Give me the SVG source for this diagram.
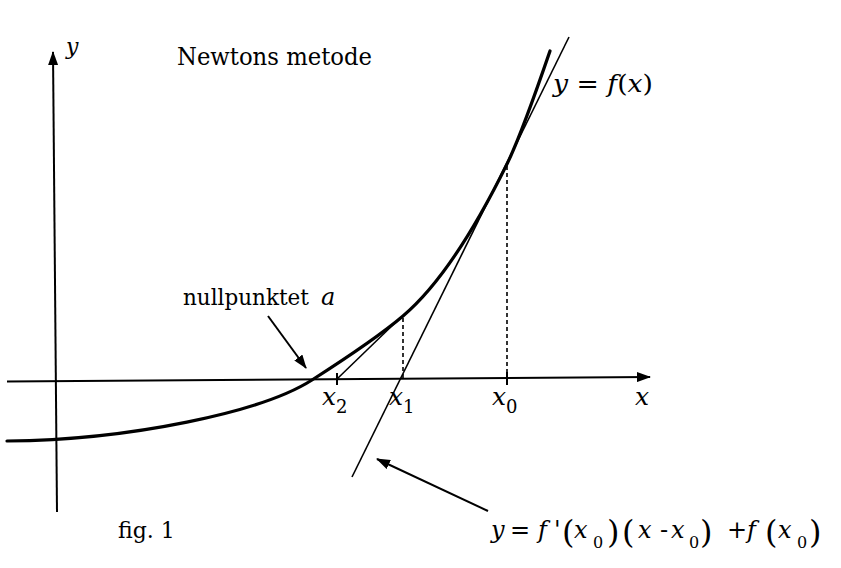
<svg xmlns="http://www.w3.org/2000/svg" width="841" height="568" viewBox="0 0 841 568">
<style>
.ax{stroke:#000;stroke-width:2;fill:none}
.crv{stroke:#000;stroke-width:3.2;fill:none;stroke-linecap:round}
.tan{stroke:#000;stroke-width:1.6;fill:none}
.dash{stroke:#000;stroke-width:1.6;stroke-dasharray:4 3;fill:none}
.ptr{stroke:#000;stroke-width:2;fill:none}
.it{font-style:italic}
.p{font-size:32px}
.s{font-size:16px}
</style>
<defs>
<marker id="ah" viewBox="0 0 14 10" refX="13" refY="5" markerWidth="14" markerHeight="10" markerUnits="userSpaceOnUse" orient="auto">
<path d="M0,0 L14,5 L0,10 Z" fill="#000"/>
</marker>
</defs>
<rect width="841" height="568" fill="#fff"/>
<g id="axes">
<line class="ax" x1="57" y1="512" x2="53" y2="52" marker-end="url(#ah)"/>
<line class="ax" x1="7" y1="381.5" x2="650" y2="377" marker-end="url(#ah)"/>
<line class="ax" x1="337" y1="373" x2="337" y2="385"/>
<line class="ax" x1="507" y1="372" x2="507" y2="385"/>
</g>
<g id="curve">
<path class="crv" d="M7,441 C130,440 262,412 312,380 C337,364 378,337.25 403,316 C443,282 480,218.8 507,164 C521,135.6 538,86 550,51"/>
</g>
<g id="connectors">
<line class="tan" x1="352" y1="477" x2="569" y2="37"/>
<line class="tan" x1="337" y1="379" x2="398" y2="320"/>
<line class="dash" x1="403" y1="318" x2="403" y2="378"/>
<line class="dash" x1="507" y1="166" x2="507" y2="377"/>
<line class="ptr" x1="268" y1="316" x2="306" y2="368" marker-end="url(#ah)"/>
<line class="ptr" x1="488" y1="511" x2="377" y2="459" marker-end="url(#ah)"/>
</g>
<g id="labels" font-family="DejaVu Serif, serif" fill="#000">
<text class="it" x="66" y="54" font-size="22">y</text>
<text x="177" y="65" font-size="25" textLength="195" lengthAdjust="spacingAndGlyphs">Newtons metode</text>
<text x="553" y="92" font-size="25" textLength="100" lengthAdjust="spacingAndGlyphs"><tspan class="it">y</tspan> = <tspan class="it">f</tspan>(<tspan class="it">x</tspan>)</text>
<text x="183" y="305" font-size="21.5">nullpunktet</text>
<text class="it" x="321" y="305" font-size="24">a</text>
<text class="it" x="322" y="405" font-size="25">x<tspan font-size="18" dy="8" font-style="normal">2</tspan></text>
<text class="it" x="389" y="405" font-size="25">x<tspan font-size="18" dy="8" font-style="normal">1</tspan></text>
<text class="it" x="492" y="405" font-size="25">x<tspan font-size="18" dy="8" font-style="normal">0</tspan></text>
<text class="it" x="635" y="405" font-size="25">x</text>
<text x="118" y="538" font-size="22">fig. 1</text>
</g>
<g id="formula" font-family="DejaVu Serif, serif" fill="#000">
<text y="538" font-size="24"><tspan x="491" class="it">y</tspan><tspan x="510">=</tspan><tspan x="538" class="it">f</tspan><tspan x="554">'</tspan><tspan x="562" class="p" dy="5">(</tspan><tspan x="574" class="it" dy="-5">x</tspan><tspan x="593" class="s" dy="10">0</tspan><tspan x="607" class="p" dy="-5">)</tspan><tspan x="622" class="p">(</tspan><tspan x="638" class="it" dy="-5">x</tspan><tspan x="660">-</tspan><tspan x="671" class="it">x</tspan><tspan x="689" class="s" dy="10">0</tspan><tspan x="700" class="p" dy="-5">)</tspan><tspan x="727" dy="-5">+</tspan><tspan x="747" class="it">f</tspan><tspan x="765" class="p" dy="5">(</tspan><tspan x="778" class="it" dy="-5">x</tspan><tspan x="797" class="s" dy="10">0</tspan><tspan x="809" class="p" dy="-5">)</tspan></text>
</g>
</svg>
